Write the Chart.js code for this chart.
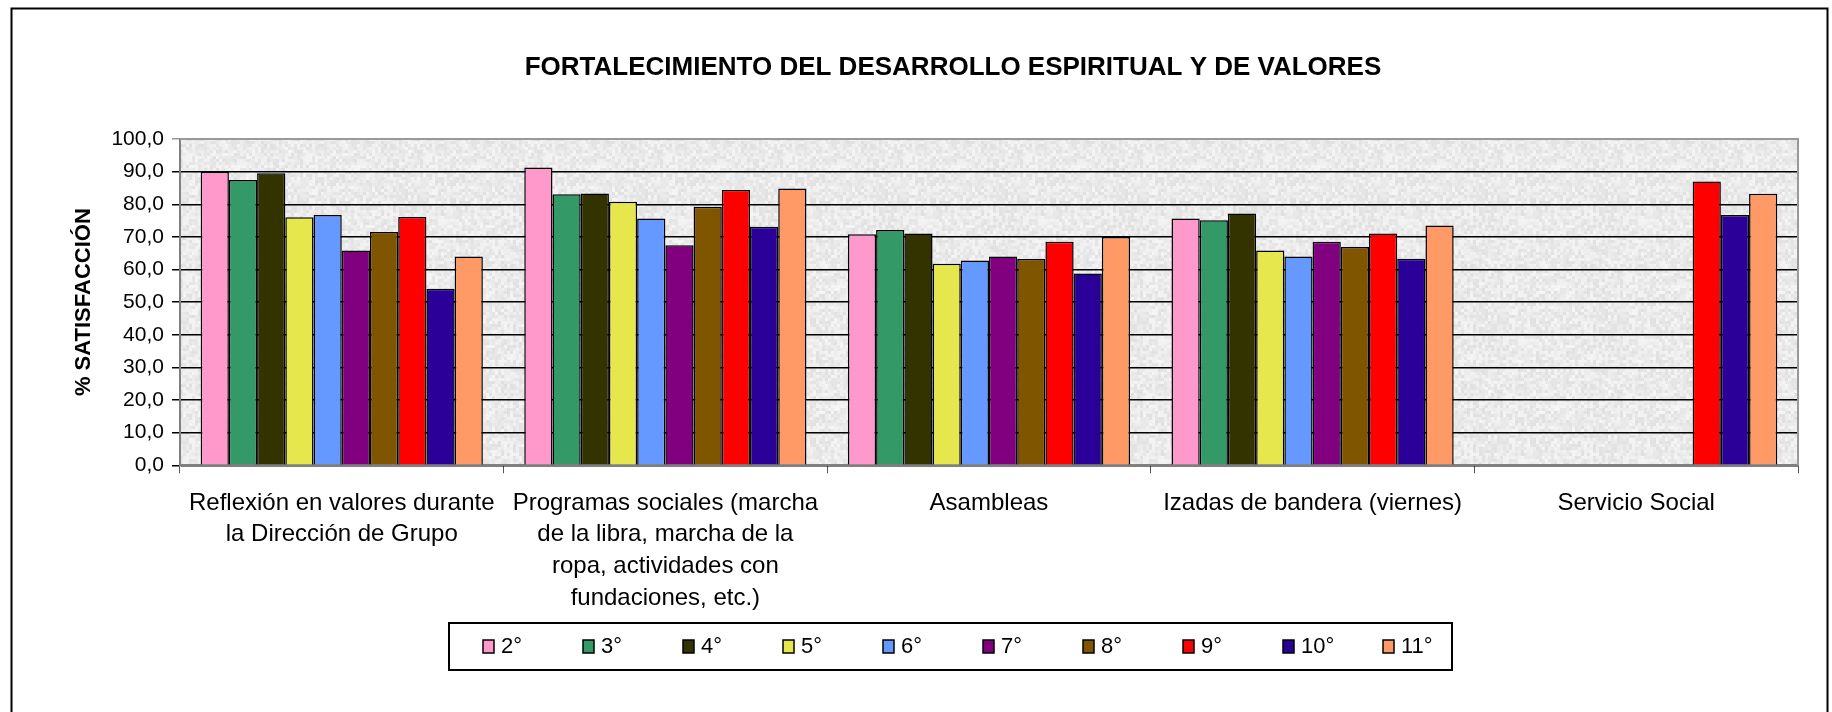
<!DOCTYPE html>
<html>
<head>
<meta charset="utf-8">
<script src="https://cdn.jsdelivr.net/npm/chart.js@4.4.0/dist/chart.umd.min.js"></script>
<style>
  html, body { margin: 0; padding: 0; background: #fff; }
  #wrap { width: 1832px; height: 712px; position: relative; }
</style>
</head>
<body>
<div id="wrap"><canvas id="myChart"></canvas></div>
<script>
// categories (multi-line labels as in the original)
const categories = [
    ['Reflexión en valores durante', 'la Dirección de Grupo'],
    ['Programas sociales (marcha', 'de la libra, marcha de la', 'ropa, actividades con', 'fundaciones, etc.)'],
    ['Asambleas'],
    ['Izadas de bandera (viernes)'],
    ['Servicio Social']
]
const grades = ['2°', '3°', '4°', '5°', '6°', '7°', '8°', '9°', '10°', '11°']

// % satisfaccion per grade
const g2  = [90.0, 91.3, 70.8, 75.6, null]
const g3  = [87.4, 83.1, 72.1, 75.1, null]
const g4  = [89.5, 83.3, 71.0, 77.2, null]
const g5  = [76.0, 80.8, 61.8, 65.8, null]
const g6  = [76.7, 75.6, 62.8, 64.0, null]
const g7  = [65.8, 67.4, 64.0, 68.5, null]
const g8  = [71.5, 79.2, 63.2, 66.9, null]
const g9  = [76.1, 84.4, 68.5, 71.0, 87.0]
const g10 = [54.1, 73.1, 58.8, 63.3, 76.7]
const g11 = [64.0, 84.8, 70.0, 73.5, 83.2]

const yTickLabels = ['0,0', '10,0', '20,0', '30,0', '40,0', '50,0', '60,0', '70,0', '80,0', '90,0', '100,0']

const chartTitle = 'FORTALECIMIENTO DEL DESARROLLO ESPIRITUAL Y DE VALORES'

const series = [g2, g3, g4, g5, g6, g7, g8, g9, g10, g11]
const colors = ['#FF99CC', '#339966', '#333300', '#E6E64D', '#6699FF', '#800080', '#7F5500', '#FF0000', '#2A0098', '#FF9966']

const FONT = '"Liberation Sans", Arial, sans-serif'
Chart.defaults.font.family = FONT
Chart.defaults.color = '#000'

// speckled grey background for the plot area
function makeTexture(){
    const c = document.createElement('canvas')
    c.width = 120; c.height = 120
    const cx = c.getContext('2d')
    let seed = 12345
    for(let y = 0; y < 120; y += 3){
        for(let x = 0; x < 120; x += 3){
            seed = (seed * 1103515245 + 12345) % 2147483648
            const v = 224 + (seed >> 8) % 22
            cx.fillStyle = 'rgb(' + v + ',' + v + ',' + v + ')'
            cx.fillRect(x, y, 3, 3)
        }
    }
    return c
}
const texture = makeTexture()

const decor = {
    id: 'decor',
    beforeDraw(chart){
        const ctx = chart.ctx
        const a = chart.chartArea
        ctx.save()
        ctx.fillStyle = '#fff'
        ctx.fillRect(0, 0, chart.width, chart.height)
        ctx.fillStyle = ctx.createPattern(texture, 'repeat')
        ctx.fillRect(a.left, a.top, a.right - a.left, a.bottom - a.top)
        ctx.restore()
    },
    afterDraw(chart){
        const ctx = chart.ctx
        const a = chart.chartArea
        ctx.save()
        // plot frame top/right
        ctx.strokeStyle = '#999'
        ctx.lineWidth = 2
        ctx.beginPath()
        ctx.moveTo(a.left, a.top)
        ctx.lineTo(a.right, a.top)
        ctx.lineTo(a.right, a.bottom)
        ctx.stroke()
        // outer frame
        ctx.strokeStyle = '#000'
        ctx.lineWidth = 2
        ctx.strokeRect(11.5, 8.5, 1816, 740)

        // title
        ctx.fillStyle = '#000'
        ctx.font = 'bold 26px ' + FONT
        ctx.textAlign = 'center'
        ctx.textBaseline = 'middle'
        ctx.fillText(chartTitle, 953, 68)

        // legend
        const lx = 449, ly = 623, lw = 1003, lh = 47
        ctx.lineWidth = 2
        ctx.strokeRect(lx, ly, lw, lh)
        ctx.font = '22px ' + FONT
        ctx.textBaseline = 'middle'
        ctx.textAlign = 'left'
        chart.data.datasets.forEach((ds, i) => {
            const bx = 483 + i * 100
            ctx.fillStyle = ds.backgroundColor
            ctx.fillRect(bx, 640, 11, 13)
            ctx.lineWidth = 1.5
            ctx.strokeStyle = '#000'
            ctx.strokeRect(bx, 640, 11, 13)
            ctx.fillStyle = '#000'
            ctx.fillText(ds.label, bx + 18, 647)
        })
        ctx.restore()
    }
}

const ctx = document.getElementById('myChart')
new Chart(ctx, {
    type: 'bar',
    data: {
        labels: categories,
        datasets: series.map((vals, i) => ({
            label: grades[i],
            data: vals,
            backgroundColor: colors[i],
            borderColor: '#000',
            borderWidth: 1.5,
            categoryPercentage: 0.872,
            barPercentage: 1.0
        }))
    },
    options: {
        responsive: true,
        maintainAspectRatio: false,
        animation: false,
        layout: { padding: { left: 50, right: 34, top: 139, bottom: 84 } },
        plugins: {
            legend: { display: false },
            tooltip: { enabled: false },
            title: { display: false }
        },
        scales: {
            x: {
                grid: {
                    display: true,
                    drawOnChartArea: false,
                    drawTicks: true,
                    tickLength: 8,
                    color: '#555',
                    offset: true
                },
                border: { color: '#808080', width: 2 },
                ticks: {
                    font: { size: 24, lineHeight: 1.32 },
                    color: '#000',
                    padding: 14,
                    maxRotation: 0,
                    autoSkip: false
                }
            },
            y: {
                min: 0,
                max: 100,
                grid: {
                    color: c => (c.tick && c.tick.value === 100) ? '#999' : '#000',
                    lineWidth: 1.5,
                    tickLength: 8
                },
                border: { color: '#808080', width: 2 },
                ticks: {
                    stepSize: 10,
                    font: { size: 21 },
                    color: '#000',
                    padding: 8,
                    callback: (v, i) => yTickLabels[i]
                },
                title: {
                    display: true,
                    text: '% SATISFACCIÓN',
                    font: { size: 22, weight: 'bold' },
                    color: '#000',
                    padding: { top: 21, bottom: 6 }
                }
            }
        }
    },
    plugins: [decor]
})
</script>
</body>
</html>
